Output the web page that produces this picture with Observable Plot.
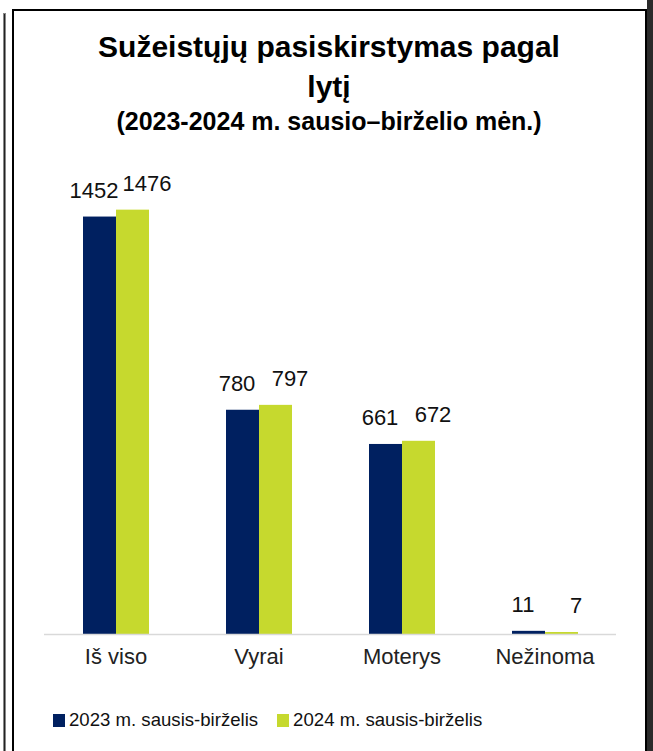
<!DOCTYPE html>
<html>
<head>
<meta charset="utf-8">
<script src="https://cdn.jsdelivr.net/npm/d3@7"></script>
<script src="https://cdn.jsdelivr.net/npm/@observablehq/plot@0.6"></script>
<style>
  html, body { margin: 0; padding: 0; background: #fff; }
  body { width: 653px; height: 751px; position: relative; overflow: hidden; font-family: "Liberation Sans", Arial, sans-serif; }
  .frame { position: absolute; left: 12px; top: 9px; width: 631px; height: 800px; border: 2px solid #000; }
  .outer { position: absolute; left: 3px; top: 13px; width: 1px; height: 800px; border: 1px solid #888; background: #222; }
  .rstrip { position: absolute; left: 647px; top: 0; width: 6px; height: 751px; background: #2b2b2b; }
  .t1, .t2 { position: absolute; left: 12px; width: 634px; text-align: center; font-weight: bold; color: #000; }
  .t1 { top: 27px; font-size: 30px; line-height: 40px; }
  .t2 { top: 106px; font-size: 25px; line-height: 30px; }
  #chart { position: absolute; left: 0; top: 150px; }
  .legend { position: absolute; left: 53px; top: 708px; display: flex; align-items: center; font-size: 18.6px; color: #111; line-height: 24px; }
  .legend .sw { width: 12px; height: 13px; margin-right: 4px; }
  .legend .item { display: flex; align-items: center; margin-right: 19px; }
</style>
</head>
<body>
<div class="outer"></div>
<div class="frame"></div>
<div class="rstrip"></div>
<div class="t1">Sužeistųjų pasiskirstymas pagal<br>lytį</div>
<div class="t2">(2023-2024 m. sausio–birželio mėn.)</div>
<div id="chart"></div>
<div class="legend" id="legend"></div>
<script>
const categories = ["Iš viso", "Vyrai", "Moterys", "Nežinoma"];
const series = ["2023 m. sausis-birželis", "2024 m. sausis-birželis"];
const values2023 = [1452, 780, 661, 11];
const values2024 = [1476, 797, 672, 7];
const colors = ["#002060", "#C6D92E"];

const data = [];
categories.forEach((c, i) => {
  data.push({category: c, series: series[0], value: values2023[i]});
  data.push({category: c, series: series[1], value: values2024[i]});
});
const d23 = data.filter(d => d.series === series[0]);
const d24 = data.filter(d => d.series === series[1]);

const chart = Plot.plot({
  width: 653,
  height: 540,
  marginTop: 24,
  marginBottom: 56,
  marginLeft: 42,
  marginRight: 36,
  style: {fontFamily: "'Liberation Sans', Arial, sans-serif", fontSize: "22px", color: "#222", background: "transparent"},
  fx: {domain: categories, padding: 0, axis: "bottom", tickSize: 0, tickPadding: 14, label: null},
  x: {domain: series, paddingInner: 0, paddingOuter: 1.113, axis: null},
  y: {domain: [0, 1600], axis: null},
  color: {domain: series, range: colors},
  marks: [
    Plot.barY(data, {fx: "category", x: "series", y: "value", fill: "series", inset: 0}),
    Plot.ruleY([0], {stroke: "#d9d9d9", strokeWidth: 1.5}),
    Plot.text(d23, {fx: "category", x: "series", y: "value", text: d => String(d.value), lineAnchor: "bottom", dy: -19, dx: -6, fontSize: 22, fill: "#111"}),
    Plot.text(d24, {fx: "category", x: "series", y: "value", text: d => String(d.value), lineAnchor: "bottom", dy: -19, dx: 14, fontSize: 22, fill: "#111"})
  ]
});
document.getElementById("chart").appendChild(chart);

const legend = document.getElementById("legend");
series.forEach((s, i) => {
  const item = document.createElement("div");
  item.className = "item";
  const sw = document.createElement("span");
  sw.className = "sw";
  sw.style.background = colors[i];
  const tx = document.createElement("span");
  tx.textContent = s;
  item.appendChild(sw);
  item.appendChild(tx);
  legend.appendChild(item);
});
</script>
</body>
</html>
